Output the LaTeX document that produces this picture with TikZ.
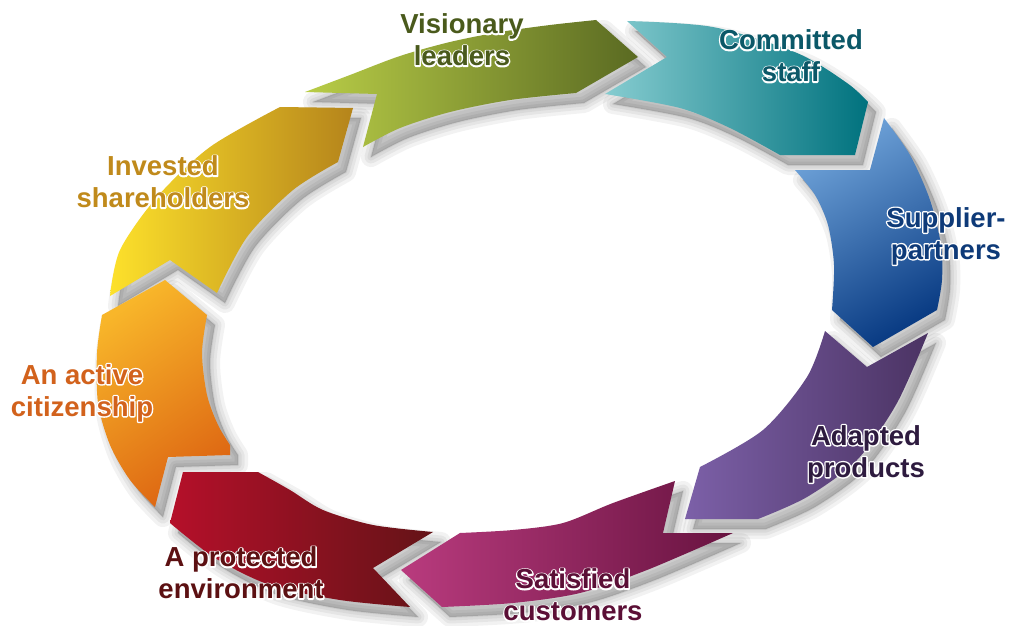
\documentclass[tikz,border=0pt]{standalone}
\usepackage{fontspec}
\setmainfont{Liberation Sans}
\definecolor{gL}{HTML}{B9CD47}\definecolor{gR}{HTML}{5A6A22}
\definecolor{tL}{HTML}{86CCD0}\definecolor{tM}{HTML}{089AA8}\definecolor{tR}{HTML}{00727E}
\definecolor{bT}{HTML}{6FA3D9}\definecolor{bB}{HTML}{0A3C84}
\definecolor{pL}{HTML}{7C60A8}\definecolor{pR}{HTML}{4B3363}
\definecolor{mL}{HTML}{B93B7E}\definecolor{mR}{HTML}{681340}
\definecolor{rL}{HTML}{B5102A}\definecolor{rR}{HTML}{641317}
\definecolor{oT}{HTML}{F8B62A}\definecolor{oB}{HTML}{DD6512}
\definecolor{yL}{HTML}{FDE12B}\definecolor{yR}{HTML}{B5841B}
\definecolor{txg}{HTML}{4A5A1C}\definecolor{txt}{HTML}{0B5868}
\definecolor{txb}{HTML}{0E3A78}\definecolor{txp}{HTML}{2E1B3F}
\definecolor{txm}{HTML}{5B0F36}\definecolor{txr}{HTML}{5C1012}
\definecolor{txo}{HTML}{D2621C}\definecolor{txy}{HTML}{C08A1B}
% white outlined text: a white stroked copy underneath, the filled text on top
\newcommand\olt[1]{\rlap{\special{pdf:literal direct 1 j 2.8 w 1 1 1 RG 1 Tr}#1\special{pdf:literal direct 0 Tr}}#1}
\newcommand\segGreen[1]{\path[#1] (305,92) -- (377,94) -- (363,147) -- plot[smooth] coordinates {(363,147) (400,128) (450,112) (510,100) (576,93)} -- (638,57) -- (596,20) -- plot[smooth] coordinates {(596,20) (550,25) (500,32) (450,42) (400,56) (350,75) (305,92)} -- cycle;}
\newcommand\segTeal[1]{\path[#1] (627,21) -- plot[smooth] coordinates {(627,21) (713,27) (797,53) (847,83) (868,102)} -- (855,155) -- (780,155) -- plot[smooth] coordinates {(780,155) (730,128) (680,108) (605,94)} -- (667,57) -- cycle;}
\newcommand\segBlue[1]{\path[#1] (884,118) -- plot[smooth] coordinates {(884,118) (910,155) (930,200) (941,245) (942,280) (937,310)} -- (873,347) -- (832,310) -- plot[smooth] coordinates {(832,310) (834,265) (828,225) (815,195) (795,170)} -- (870,170) -- cycle;}
\newcommand\segPurple[1]{\path[#1] (928,333) -- plot[smooth] coordinates {(928,333) (897,403) (857,460) (807,497) (758,519)} -- (685,519) -- (700,467) -- plot[smooth] coordinates {(700,467) (763,430) (807,377) (825,331)} -- (867,367) -- cycle;}
\newcommand\segMagenta[1]{\path[#1] (733,533) -- plot[smooth] coordinates {(733,533) (647,570) (580,593) (513,603) (442,607)} -- (401,570) -- (460,533) -- plot[smooth] coordinates {(460,533) (513,530) (563,523) (613,503) (675,481)} -- (663,533) -- cycle;}
\newcommand\segRed[1]{\path[#1] (433,532) -- (373,568) -- (410,607) -- plot[smooth] coordinates {(410,607) (340,600) (270,585) (215,558) (170,523)} -- (183,472) -- (258,472) -- plot[smooth] coordinates {(258,472) (290,490) (323,510) (373,525) (433,532)} -- cycle;}
\newcommand\segOrange[1]{\path[#1] (155,507) -- plot[smooth] coordinates {(155,507) (130,480) (110,445) (98,403) (97,353) (102,315)} -- (165,280) -- (207,315) -- plot[smooth] coordinates {(207,315) (202,353) (207,395) (218,425) (230,445)} -- (230,455) -- (168,457) -- cycle;}
\newcommand\segYellow[1]{\path[#1] (110,296) -- plot[smooth] coordinates {(110,296) (120,250) (157,197) (210,147) (280,107)} -- (353,108) -- (338,162) -- plot[smooth] coordinates {(338,162) (293,190) (247,237) (217,293)} -- (170,260) -- cycle;}
\newcommand\softshadow[1]{\begin{scope}[shift={(8,10)}]\foreach \w in {20,13,7,2}{#1{fill=black,draw=black,line width=\w,fill opacity=0.05,draw opacity=0.05,line join=round}}\end{scope}}
\begin{document}
\begin{tikzpicture}[x=1pt,y=-1pt,
  lab/.style={font=\bfseries\fontsize{27.5}{32}\selectfont, align=center, inner sep=0pt}]
\useasboundingbox[fill=white] (0,0) rectangle (1010,626);
% shadows
\softshadow{\segGreen}\softshadow{\segTeal}\softshadow{\segBlue}\softshadow{\segPurple}
\softshadow{\segMagenta}\softshadow{\segRed}\softshadow{\segOrange}\softshadow{\segYellow}
% segments
\segGreen{left color=gL, right color=gR}
\segTeal{left color=tL, middle color=tM, right color=tR}
\segBlue{top color=bT, bottom color=bB, shading angle=30}
\segPurple{left color=pL, right color=pR}
\segMagenta{left color=mL, right color=mR}
\segRed{left color=rL, right color=rR}
\segOrange{top color=oT, bottom color=oB, shading angle=35}
\segYellow{left color=yL, right color=yR}
% labels
\node[lab, text=txg] (visionary) at (462,40) {\olt{Visionary}\\\olt{leaders}};
\node[lab, text=txt] (committed) at (791,56) {\olt{Committed}\\\olt{staff}};
\node[lab, text=txb] (supplier) at (946,236) {\olt{Supplier-}\\\olt{partners}};
\node[lab, text=txp] (adapted) at (866,454) {\olt{Adapted}\\\olt{products}};
\node[lab, text=txm] (satisfied) at (573,595) {\olt{Satisfied}\\\olt{customers}};
\node[lab, text=txr] (protected) at (241,573) {\olt{A protected}\\\olt{environment}};
\node[lab, text=txo] (active) at (82,393) {\olt{An active}\\\olt{citizenship}};
\node[lab, text=txy] (invested) at (163,182) {\olt{Invested}\\\olt{shareholders}};
\end{tikzpicture}
\end{document}
